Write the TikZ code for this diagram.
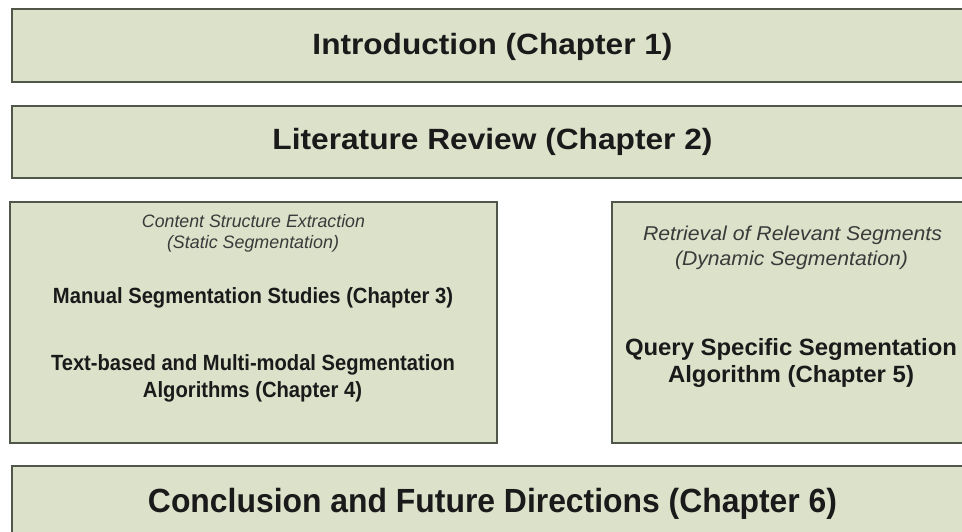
\documentclass[tikz,border=0pt]{standalone}
\usepackage{fontspec}
\setmainfont{Liberation Sans}
\usepackage{graphicx}
\definecolor{boxfill}{HTML}{DCE1CA}
\definecolor{boxline}{HTML}{51564B}
\definecolor{ink}{HTML}{1A1A1A}
\definecolor{softink}{HTML}{3A3A3A}
% text stretched horizontally to a given width, font size in pt
\newcommand{\fitw}[3]{\resizebox{#1pt}{\height}{\fontsize{#2pt}{#2pt}\selectfont #3}}
\tikzset{
  chapbox/.style={draw=boxline, line width=2.8pt, fill=boxfill, inner sep=0pt},
  txt/.style={inner sep=0pt, anchor=base, text=ink, font=\bfseries},
  subtxt/.style={inner sep=0pt, anchor=base, text=softink, font=\itshape},
}
\begin{document}
\begin{tikzpicture}[x=1pt,y=-1pt]
\useasboundingbox (0,0) rectangle (962,531);
\clip (0,0) rectangle (962,531);
\fill[white] (0,0) rectangle (962,531);

% chapter boxes
\node[chapbox, minimum width=963pt, minimum height=73pt] (intro) at (493.5,45.5) {};
\node[chapbox, minimum width=963pt, minimum height=72pt] (lit) at (493.5,142) {};
\node[chapbox, minimum width=487pt, minimum height=241pt] (static) at (253.5,322.5) {};
\node[chapbox, minimum width=363pt, minimum height=241pt] (dynamic) at (793.5,322.5) {};
\node[chapbox, minimum width=963pt, minimum height=94pt] (concl) at (493.5,513) {};

% box titles
\node[txt] (tintro) at (492.5,54) {\fitw{360}{29.3}{Introduction (Chapter 1)}};
\node[txt] (tlit) at (492.5,149) {\fitw{440}{29.3}{Literature Review (Chapter 2)}};
\node[txt] (tconcl) at (492.5,512) {\fitw{689}{33.5}{Conclusion and Future Directions (Chapter 6)}};

% static segmentation
\node[subtxt] (s1) at (253.5,227) {\fitw{223}{18}{Content Structure Extraction}};
\node[subtxt] (s2) at (253,248) {\fitw{172}{18}{(Static Segmentation)}};
\node[txt] (c3) at (253,303) {\fitw{400}{22}{Manual Segmentation Studies (Chapter 3)}};
\node[txt] (c4a) at (253,370) {\fitw{404}{22}{Text-based and Multi-modal Segmentation}};
\node[txt] (c4b) at (252.5,397) {\fitw{219}{22}{Algorithms (Chapter 4)}};

% dynamic segmentation
\node[subtxt] (d1) at (792.5,240) {\fitw{299}{20}{Retrieval of Relevant Segments}};
\node[subtxt] (d2) at (791.5,265) {\fitw{233}{20}{(Dynamic Segmentation)}};
\node[txt] (c5a) at (791,355) {\fitw{332}{23.5}{Query Specific Segmentation}};
\node[txt] (c5b) at (791,382) {\fitw{246}{23.5}{Algorithm (Chapter 5)}};
\end{tikzpicture}
\end{document}
